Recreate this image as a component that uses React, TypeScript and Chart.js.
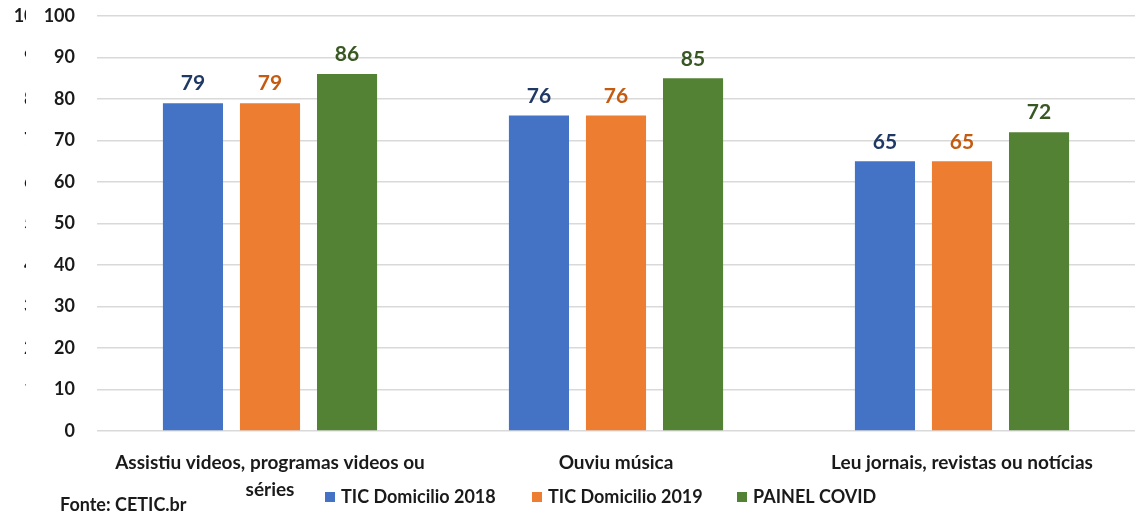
import React, { useEffect, useRef } from "react";
import { Chart, registerables } from "chart.js";

Chart.register(...registerables);

const categories: (string | string[])[] = [
  ["Assistiu videos, programas videos ou", "séries"],
  "Ouviu música",
  "Leu jornais, revistas ou notícias",
];
const seriesNames = ["TIC Domicilio 2018", "TIC Domicilio 2019", "PAINEL COVID"];
const tic2018 = [79, 76, 65];
const tic2019 = [79, 76, 65];
const painelCovid = [86, 85, 72];
const yTicks = [0, 10, 20, 30, 40, 50, 60, 70, 80, 90, 100];
const sourceText = "Fonte: CETIC.br";

const barColors = ["#4472C4", "#ED7D31", "#548235"];
const labelColors = ["#203864", "#C55A11", "#385723"];
const FONT = "Lato, 'Open Sans', sans-serif";
const Y_FONT_SIZE = 18;

const dataLabelsPlugin = {
  id: "dataLabels",
  afterDatasetsDraw(chart: any) {
    const ctx = chart.ctx;
    ctx.save();
    ctx.font = `bold 21px ${FONT}`;
    ctx.textAlign = "center";
    ctx.textBaseline = "bottom";
    chart.data.datasets.forEach((ds: any, i: number) => {
      const meta = chart.getDatasetMeta(i);
      meta.data.forEach((bar: any, j: number) => {
        ctx.fillStyle = labelColors[i];
        ctx.fillText(String(ds.data[j]), bar.x, bar.y - 9);
      });
    });
    ctx.restore();
  },
};

const extrasPlugin = {
  id: "extras",
  afterDraw(chart: any) {
    const ctx = chart.ctx;
    const yScale = chart.scales.y;
    ctx.save();
    // cropped duplicate axis at far left
    ctx.beginPath();
    ctx.rect(0, 0, 26, chart.height);
    ctx.clip();
    ctx.font = `bold ${Y_FONT_SIZE}px ${FONT}`;
    ctx.fillStyle = "#1a1a1a";
    ctx.textAlign = "right";
    ctx.textBaseline = "middle";
    yTicks.forEach((v) => {
      ctx.fillText(String(v), 45, yScale.getPixelForValue(v));
    });
    ctx.restore();

    // legend
    ctx.save();
    ctx.font = `bold 18px ${FONT}`;
    ctx.textBaseline = "middle";
    ctx.textAlign = "left";
    const legendY = 497;
    const boxes = [325, 532, 737];
    seriesNames.forEach((name, i) => {
      ctx.fillStyle = barColors[i];
      ctx.fillRect(boxes[i], legendY - 5, 10, 10);
      ctx.fillStyle = "#1a1a1a";
      ctx.fillText(name, boxes[i] + 16, legendY);
    });
    // source
    ctx.fillText(sourceText, 60, 505);
    ctx.restore();
  },
};

export default function App() {
  const ref = useRef<HTMLCanvasElement>(null);
  useEffect(() => {
    if (!ref.current) return;
    const chart = new Chart(ref.current, {
      type: "bar",
      data: {
        labels: categories,
        datasets: [tic2018, tic2019, painelCovid].map((d, i) => ({
          label: seriesNames[i],
          data: d,
          backgroundColor: barColors[i],
          borderWidth: 0,
          barPercentage: 0.78,
          categoryPercentage: 0.668,
        })),
      },
      options: {
        animation: false,
        responsive: true,
        maintainAspectRatio: false,
        layout: { padding: 0 },
        plugins: {
          legend: { display: false },
          tooltip: { enabled: false },
        },
        scales: {
          x: {
            grid: { display: false },
            border: { display: false },
            ticks: {
              color: "#1a1a1a",
              font: { family: FONT, size: 19, weight: "bold", lineHeight: 1.45 },
              padding: 10,
              maxRotation: 0,
              autoSkip: false,
            },
            afterFit(scale: any) {
              scale.height = 84;
              scale.paddingLeft = 0;
              scale.paddingRight = 0;
            },
          },
          y: {
            min: 0,
            max: 100,
            grid: { color: "#D9D9D9", lineWidth: 1.5, drawTicks: false },
            border: { display: false },
            ticks: {
              stepSize: 10,
              color: "#1a1a1a",
              font: { family: FONT, size: Y_FONT_SIZE, weight: "bold" },
              padding: 22,
            },
            afterFit(scale: any) {
              scale.width = 97;
              scale.paddingTop = 16;
              scale.paddingBottom = 0;
            },
          },
        },
      },
      plugins: [dataLabelsPlugin, extrasPlugin],
    });
    return () => chart.destroy();
  }, []);
  return (
    <div style={{ position: "absolute", left: 0, top: 0, width: 1135, height: 515, background: "#fff" }}>
      <canvas ref={ref} />
    </div>
  );
}
